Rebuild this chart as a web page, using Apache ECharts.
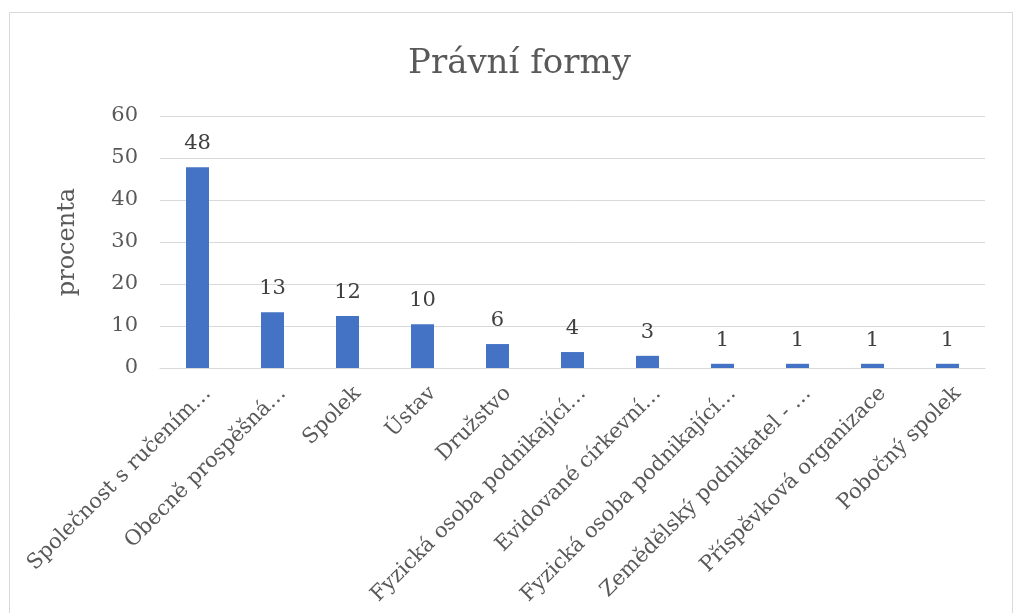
<!DOCTYPE html>
<html>
<head>
<meta charset="utf-8">
<script src="https://cdn.jsdelivr.net/npm/echarts@6/dist/echarts.min.js"></script>
<style>
  html, body { margin: 0; padding: 0; background: #ffffff; }
  #chart { width: 1014px; height: 613px; }
</style>
</head>
<body>
<div id="chart"></div>
<script>
const titleText = 'Právní formy';
const yAxisName = 'procenta';
const categories = [
  'Společnost s ručením…',
  'Obecně prospěšná…',
  'Spolek',
  'Ústav',
  'Družstvo',
  'Fyzická osoba podnikající…',
  'Evidované církevní…',
  'Fyzická osoba podnikající…',
  'Zemědělský podnikatel - …',
  'Příspěvková organizace',
  'Pobočný spolek'
];
const values = [47.8, 13.3, 12.4, 10.4, 5.7, 3.8, 2.9, 1.0, 1.0, 1.0, 1.0];
const yMin = 0, yMax = 60, yStep = 10;

const FONT = 'DejaVu Serif';
const chart = echarts.init(document.getElementById('chart'));
chart.setOption({
  backgroundColor: '#ffffff',
  animation: false,
  graphic: [{
    type: 'rect',
    shape: { x: 9.5, y: 12.5, width: 1003, height: 700 },
    style: { fill: 'none', stroke: '#d9d9d9', lineWidth: 1 },
    silent: true
  }],
  title: {
    text: titleText,
    left: 403,
    top: 42,
    textStyle: { fontFamily: FONT, fontSize: 34, fontWeight: 'normal', color: '#595959' }
  },
  grid: { left: 160, right: 29, top: 116, bottom: 245, containLabel: false },
  xAxis: {
    type: 'category',
    data: categories,
    axisLine: { lineStyle: { color: '#d9d9d9', width: 1 } },
    axisTick: { show: false },
    axisLabel: {
      interval: 0,
      rotate: 45,
      margin: 12,
      verticalAlign: 'top',
      padding: [4, 0, 0, 0],
      fontFamily: FONT,
      fontSize: 21,
      color: '#595959'
    }
  },
  yAxis: {
    type: 'value',
    min: yMin, max: yMax, interval: yStep,
    name: yAxisName,
    nameLocation: 'middle',
    nameGap: 80,
    nameTextStyle: { fontFamily: FONT, fontSize: 24, color: '#595959' },
    axisLine: { show: false },
    axisTick: { show: false },
    axisLabel: { margin: 22, fontFamily: FONT, fontSize: 21, color: '#595959' },
    splitLine: { lineStyle: { color: '#d9d9d9', width: 1 } }
  },
  series: [{
    type: 'bar',
    data: values,
    barWidth: 23,
    itemStyle: { color: '#4472c4' },
    label: {
      show: true,
      position: 'top',
      distance: 13,
      fontFamily: FONT,
      fontSize: 21,
      color: '#404040',
      formatter: p => Math.round(p.value)
    }
  }]
});
</script>
</body>
</html>
